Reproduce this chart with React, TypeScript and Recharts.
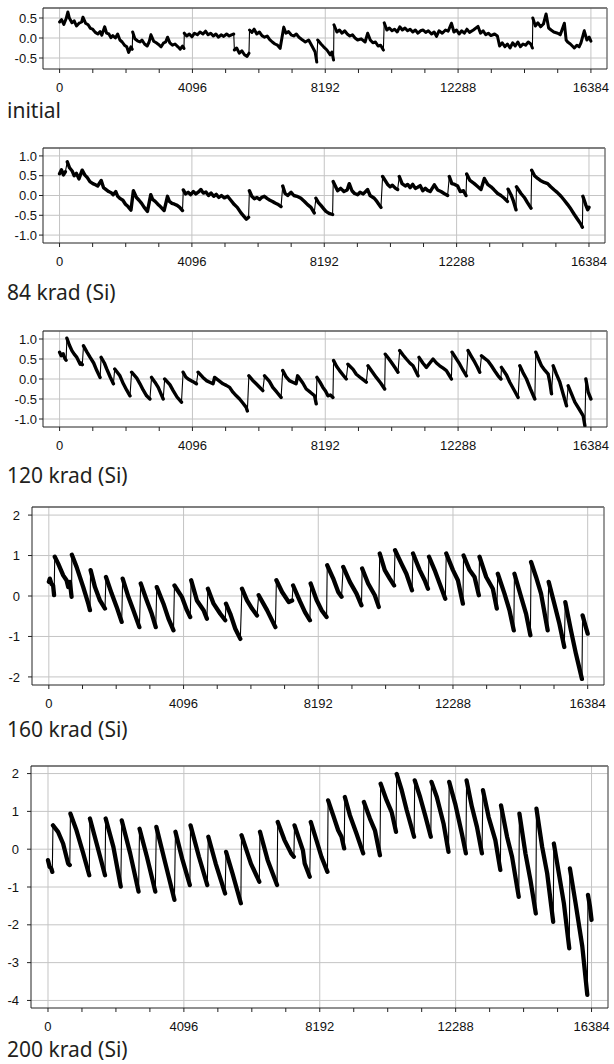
import React from "react";
import { LineChart, Line, XAxis, YAxis, CartesianGrid, ReferenceLine } from "recharts";

type Trace = [number, number][];

// code axis
const xTicks = [0, 1024, 2048, 3072, 4096, 5120, 6144, 7168, 8192, 9216, 10240, 11264, 12288, 13312, 14336, 15360, 16384];
const xLabelled = [0, 4096, 8192, 12288, 16384];
const xDomain: [number, number] = [-512, 16880];

const captions = ["initial", "84 krad (Si)", "120 krad (Si)", "160 krad (Si)", "200 krad (Si)"];

const ticksInitial = [-0.5, 0, 0.5];
const ticksMid = [-1, -0.5, 0, 0.5, 1];
const ticks160 = [-2, -1, 0, 1, 2];
const ticks200 = [-4, -3, -2, -1, 0, 1, 2];

// [code, DNL]
const initialTrace: Trace = [
  [0, 0.4], [60, 0.46], [130, 0.34], [200, 0.48], [256, 0.65], [300, 0.5], [380, 0.38], [450, 0.43], [520, 0.3], [600, 0.37],
  [680, 0.4], [720, 0.52], [800, 0.37], [880, 0.33], [950, 0.24], [1020, 0.22], [1100, 0.14], [1180, 0.1], [1250, 0.16], [1300, 0.07],
  [1390, 0.28], [1450, 0.12], [1520, 0.1], [1580, 0.01], [1640, 0.06], [1720, 0.0], [1790, 0.1], [1860, -0.05], [1930, -0.1], [2000, -0.18],
  [2070, -0.22], [2130, -0.36], [2200, -0.22], [2240, -0.28], [2253, 0.15], [2320, -0.02], [2400, -0.07], [2480, -0.1], [2540, -0.05], [2620, -0.15],
  [2700, -0.2], [2760, -0.1], [2816, 0.08], [2900, -0.08], [2980, -0.12], [3050, -0.16], [3130, -0.22], [3200, -0.13], [3270, -0.1], [3328, 0.02],
  [3400, -0.12], [3480, -0.18], [3560, -0.15], [3650, -0.22], [3720, -0.28], [3790, -0.2], [3835, -0.26], [3845, 0.12], [3920, 0.05], [4000, 0.1],
  [4080, 0.03], [4160, 0.12], [4250, 0.08], [4330, 0.15], [4420, 0.1], [4500, 0.17], [4580, 0.08], [4660, 0.12], [4740, 0.05], [4820, 0.1],
  [4900, 0.02], [4980, 0.08], [5060, 0.04], [5150, 0.1], [5230, 0.05], [5300, 0.08], [5370, 0.1], [5390, -0.3], [5460, -0.25], [5540, -0.38],
  [5620, -0.32], [5700, -0.42], [5780, -0.46], [5840, -0.38], [5857, 0.2], [5930, 0.14], [6000, 0.22], [6080, 0.1], [6160, 0.15], [6240, 0.06],
  [6320, 0.02], [6400, 0.05], [6480, -0.04], [6560, -0.1], [6640, -0.15], [6720, -0.18], [6800, -0.26], [6912, 0.27], [6980, 0.12], [7060, 0.16],
  [7140, 0.08], [7220, 0.05], [7300, 0.1], [7380, 0.02], [7460, -0.03], [7578, -0.1], [7680, -0.05], [7782, -0.2], [7880, -0.35], [7930, -0.6],
  [7960, -0.05], [8060, -0.15], [8141, -0.22], [8243, -0.3], [8346, -0.42], [8397, -0.35], [8448, -0.55], [8460, 0.33], [8550, 0.15], [8630, 0.2],
  [8710, 0.12], [8790, 0.18], [8870, 0.1], [8950, 0.05], [9030, 0.08], [9110, 0.0], [9190, -0.05], [9300, -0.02], [9421, -0.1], [9500, 0.12],
  [9580, -0.05], [9660, -0.12], [9740, -0.1], [9820, -0.2], [9900, -0.18], [9984, -0.3], [10010, 0.38], [10090, 0.2], [10170, 0.25], [10250, 0.18],
  [10330, 0.22], [10410, 0.15], [10490, 0.28], [10570, 0.2], [10650, 0.25], [10730, 0.18], [10810, 0.22], [10890, 0.15], [10970, 0.2], [11050, 0.12],
  [11130, 0.18], [11210, 0.2], [11290, 0.14], [11370, 0.18], [11469, 0.1], [11550, 0.15], [11622, 0.04], [11700, 0.18], [11800, 0.12], [11900, 0.2],
  [11981, 0.17], [12083, 0.37], [12160, 0.15], [12240, 0.2], [12320, 0.1], [12400, 0.18], [12480, 0.12], [12560, 0.22], [12640, 0.14], [12760, 0.2],
  [12903, 0.29], [12980, 0.12], [13060, 0.18], [13140, 0.08], [13220, 0.12], [13300, 0.06], [13414, 0.1], [13500, 0.05], [13568, -0.2], [13650, -0.12],
  [13730, -0.22], [13810, -0.15], [13890, -0.25], [13970, -0.12], [14050, -0.2], [14130, -0.1], [14210, -0.22], [14290, -0.15], [14370, -0.18], [14450, -0.1],
  [14530, -0.15], [14580, -0.25], [14592, 0.5], [14670, 0.3], [14750, 0.38], [14830, 0.28], [14920, 0.35], [15002, 0.6], [15080, 0.25], [15155, 0.2],
  [15240, 0.15], [15360, 0.12], [15440, 0.08], [15565, 0.37], [15620, -0.05], [15667, -0.1], [15750, -0.15], [15872, -0.25], [15950, -0.18], [16020, -0.22],
  [16077, -0.12], [16179, 0.18], [16260, -0.05], [16330, 0.02], [16384, -0.08],
];

const krad84Trace: Trace = [
  [0, 0.55], [60, 0.65], [120, 0.52], [180, 0.6], [240, 0.85], [310, 0.7], [390, 0.62], [450, 0.5], [520, 0.56], [600, 0.42],
  [700, 0.64], [780, 0.52], [860, 0.45], [940, 0.35], [1030, 0.3], [1110, 0.27], [1180, 0.24], [1290, 0.38], [1360, 0.2], [1440, 0.15],
  [1520, 0.1], [1600, 0.07], [1660, 0.02], [1740, 0.1], [1800, -0.02], [1880, -0.08], [1960, -0.12], [2040, -0.22], [2120, -0.28], [2210, -0.37],
  [2285, 0.12], [2380, -0.05], [2460, -0.12], [2540, -0.2], [2620, -0.3], [2720, -0.4], [2823, 0.02], [2880, -0.1], [2960, -0.15], [3040, -0.22],
  [3120, -0.28], [3236, -0.38], [3340, -0.02], [3400, -0.15], [3480, -0.2], [3560, -0.22], [3640, -0.25], [3720, -0.3], [3805, -0.38], [3830, 0.14],
  [3900, 0.04], [3980, 0.08], [4060, 0.02], [4140, 0.1], [4220, 0.04], [4300, 0.09], [4374, 0.15], [4450, 0.06], [4530, 0.09], [4610, 0.0],
  [4690, 0.06], [4770, -0.02], [4850, 0.03], [4930, -0.05], [5010, 0.0], [5100, -0.06], [5200, -0.02], [5300, -0.12], [5408, -0.23], [5500, -0.3],
  [5615, -0.44], [5700, -0.52], [5780, -0.6], [5850, -0.55], [5875, 0.12], [5950, -0.02], [6030, -0.08], [6110, -0.05], [6190, -0.1], [6270, -0.04],
  [6338, -0.02], [6430, -0.08], [6510, -0.12], [6590, -0.15], [6670, -0.19], [6750, -0.22], [6855, -0.28], [6907, 0.24], [6980, 0.05], [7060, 0.0],
  [7166, 0.08], [7250, 0.0], [7350, -0.02], [7470, -0.07], [7580, -0.15], [7676, -0.23], [7780, -0.3], [7882, -0.44], [7934, -0.07], [8010, -0.18],
  [8089, -0.25], [8170, -0.33], [8244, -0.4], [8340, -0.45], [8450, -0.48], [8470, 0.35], [8605, 0.12], [8700, 0.18], [8800, 0.1], [8900, 0.14],
  [8966, 0.3], [9050, 0.12], [9130, 0.05], [9224, 0.02], [9300, 0.08], [9400, 0.04], [9534, 0.15], [9610, 0.0], [9740, -0.07], [9820, -0.15],
  [9946, -0.3], [9998, 0.48], [10153, 0.28], [10230, 0.22], [10300, 0.26], [10400, 0.18], [10462, 0.15], [10514, 0.48], [10600, 0.3], [10700, 0.24],
  [10772, 0.28], [10850, 0.2], [10930, 0.28], [11010, 0.18], [11082, 0.21], [11160, 0.25], [11240, 0.12], [11320, 0.18], [11391, 0.13], [11470, 0.1],
  [11598, 0.27], [11700, 0.14], [11804, 0.1], [11900, 0.05], [12010, 0.0], [12062, 0.48], [12140, 0.3], [12230, 0.28], [12320, 0.24], [12400, 0.1],
  [12500, 0.12], [12578, 0.0], [12600, 0.54], [12700, 0.38], [12836, 0.3], [12920, 0.24], [13042, 0.15], [13146, 0.43], [13250, 0.28], [13352, 0.22],
  [13440, 0.15], [13558, 0.05], [13660, 0.0], [13765, -0.07], [13860, -0.15], [13880, 0.16], [13971, 0.02], [14050, -0.15], [14126, -0.36], [14140, 0.22],
  [14280, 0.05], [14384, -0.05], [14480, -0.18], [14590, -0.32], [14611, 0.64], [14700, 0.5], [14797, 0.43], [14880, 0.38], [15000, 0.33], [15106, 0.3],
  [15200, 0.22], [15312, 0.14], [15400, 0.08], [15519, -0.02], [15620, -0.12], [15725, -0.23], [15830, -0.35], [15931, -0.48], [16030, -0.6], [16138, -0.73],
  [16180, -0.8], [16195, -0.02], [16290, -0.25], [16345, -0.36], [16384, -0.3],
];

const krad120Trace: Trace = [
  [0, 0.67], [50, 0.58], [110, 0.63], [170, 0.5], [200, 0.47], [225, 1.02], [300, 0.85], [379, 0.71], [450, 0.62], [532, 0.54],
  [635, 0.37], [660, 0.4], [700, 0.36], [737, 0.83], [840, 0.68], [942, 0.54], [1050, 0.4], [1147, 0.21], [1249, 0.04], [1280, 0.54], [1380, 0.4],
  [1454, 0.25], [1560, 0.05], [1659, -0.12], [1700, 0.25], [1860, 0.08], [1966, -0.12], [2070, -0.28], [2171, -0.42], [2220, 0.17], [2380, 0.02],
  [2478, -0.12], [2580, -0.28], [2683, -0.42], [2785, -0.5], [2836, 0.04], [2940, -0.08], [3041, -0.21], [3120, -0.36], [3195, -0.5], [3240, 0.0],
  [3400, -0.14], [3502, -0.29], [3620, -0.45], [3758, -0.58], [3809, 0.17], [3890, 0.05], [3963, 0.0], [4100, -0.06], [4219, -0.12], [4270, 0.17],
  [4420, 0.04], [4526, -0.04], [4630, -0.08], [4731, -0.12], [4780, 0.04], [4940, -0.06], [5038, -0.12], [5140, -0.16], [5243, -0.21], [5345, -0.33],
  [5450, -0.42], [5550, -0.5], [5650, -0.6], [5755, -0.71], [5790, -0.8], [5837, 0.08], [5950, -0.03], [6062, -0.12], [6160, -0.2], [6267, -0.29],
  [6320, 0.08], [6470, -0.06], [6574, -0.21], [6700, -0.33], [6830, -0.46], [6881, 0.21], [6980, 0.06], [7086, -0.04], [7190, -0.08], [7291, -0.12],
  [7340, 0.08], [7500, -0.1], [7605, -0.25], [7730, -0.33], [7863, -0.42], [7914, -0.62], [7935, 0.04], [8030, -0.08], [8120, -0.21], [8200, -0.3],
  [8274, -0.42], [8350, -0.4], [8429, -0.46], [8449, 0.46], [8540, 0.32], [8634, 0.21], [8740, 0.1], [8840, 0.0], [8890, 0.37], [9050, 0.24],
  [9149, 0.12], [9300, 0.02], [9458, -0.08], [9509, 0.33], [9640, 0.18], [9766, 0.04], [9900, -0.1], [10024, -0.25], [10044, 0.62], [10140, 0.52],
  [10229, 0.42], [10330, 0.3], [10435, 0.17], [10487, 0.71], [10590, 0.6], [10692, 0.5], [10800, 0.4], [10898, 0.33], [10980, 0.2], [11053, 0.08],
  [11083, 0.54], [11200, 0.4], [11310, 0.29], [11400, 0.38], [11516, 0.5], [11620, 0.4], [11721, 0.33], [11827, 0.27], [11927, 0.21], [12010, 0.1],
  [12082, 0.0], [12102, 0.67], [12220, 0.52], [12339, 0.37], [12440, 0.22], [12545, 0.08], [12596, 0.71], [12700, 0.56], [12802, 0.42], [12880, 0.3],
  [12957, 0.17], [13010, 0.58], [13210, 0.45], [13316, 0.33], [13420, 0.2], [13522, 0.08], [13610, 0.0], [13625, 0.29], [13780, 0.1], [13882, -0.08],
  [14010, -0.27], [14139, -0.46], [14191, 0.33], [14290, 0.16], [14397, 0.0], [14520, -0.25], [14654, -0.5], [14685, 0.67], [14770, 0.5], [14860, 0.33],
  [14960, 0.22], [15066, 0.12], [15120, -0.1], [15169, -0.37], [15220, 0.33], [15320, 0.12], [15426, -0.08], [15530, -0.38], [15632, -0.67], [15683, -0.17],
  [15789, -0.38], [15889, -0.58], [16020, -0.75], [16146, -0.92], [16198, -1.17], [16228, 0.0], [16300, -0.33], [16384, -0.5],
];

const krad160Trace: Trace = [
  [0, 0.35], [30, 0.43], [80, 0.3], [130, 0.26], [160, 0.02], [180, 0.97], [284, 0.8], [437, 0.51], [538, 0.39], [589, 0.22],
  [640, 0.35], [691, -0.02], [700, 1.02], [843, 0.72], [1046, 0.22], [1199, -0.19], [1250, -0.35], [1270, 0.64], [1402, 0.22], [1554, -0.11],
  [1707, -0.31], [1737, 0.47], [1910, 0.06], [2062, -0.27], [2215, -0.64], [2245, 0.43], [2418, -0.02], [2570, -0.35], [2753, -0.77], [2794, 0.31],
  [2977, -0.11], [3129, -0.44], [3251, -0.77], [3282, 0.22], [3485, -0.19], [3637, -0.56], [3790, -0.85], [3820, 0.26], [4044, -0.02], [4196, -0.35],
  [4298, -0.52], [4328, 0.39], [4501, -0.11], [4704, -0.35], [4806, -0.56], [4836, 0.18], [5009, -0.19], [5212, -0.44], [5364, -0.6], [5385, -0.19],
  [5517, -0.44], [5669, -0.81], [5822, -1.06], [5872, 0.18], [6025, -0.11], [6177, -0.31], [6330, -0.48], [6380, 0.02], [6634, -0.35], [6888, -0.77],
  [6919, 0.39], [7092, 0.1], [7295, -0.15], [7397, -0.11], [7427, 0.26], [7640, -0.14], [7788, -0.4], [7939, -0.6], [7960, 0.31], [8141, -0.1],
  [8293, -0.35], [8445, -0.52], [8465, 0.76], [8647, 0.43], [8799, 0.1], [8900, -0.02], [8950, 0.72], [9152, 0.35], [9355, 0.06], [9506, -0.23],
  [9526, 0.68], [9708, 0.31], [9911, 0.02], [10032, -0.27], [10062, 1.05], [10214, 0.64], [10366, 0.43], [10497, 0.26], [10527, 1.13], [10720, 0.8],
  [10871, 0.55], [11043, 0.14], [11073, 1.05], [11276, 0.64], [11427, 0.39], [11528, 0.18], [11559, 0.97], [11730, 0.64], [11882, 0.31], [12054, -0.07],
  [12084, 1.05], [12287, 0.64], [12438, 0.39], [12590, -0.19], [12610, 1.0], [12792, 0.64], [12944, 0.47], [13075, 0.02], [13095, 0.97], [13298, 0.47],
  [13500, 0.18], [13621, -0.31], [13651, 0.55], [13854, 0.06], [14005, -0.35], [14137, -0.85], [14157, 0.55], [14359, -0.02], [14511, -0.44], [14642, -0.97],
  [14662, 0.84], [14814, 0.47], [14966, 0.06], [15168, -0.85], [15198, 0.35], [15370, -0.19], [15522, -0.68], [15673, -1.26], [15703, -0.15], [15875, -0.85],
  [16027, -1.43], [16209, -2.05], [16229, -0.48], [16310, -0.72], [16384, -0.93],
];

const krad200Trace: Trace = [
  [0, -0.29], [50, -0.47], [100, -0.51], [130, -0.6], [150, 0.63], [303, 0.46], [455, 0.15], [607, -0.38], [657, -0.42], [677, 0.94],
  [859, 0.5], [1062, -0.11], [1244, -0.69], [1264, 0.81], [1466, 0.15], [1719, -0.69], [1739, 0.81], [1971, 0.06], [2194, -0.99], [2224, 0.76],
  [2477, -0.11], [2730, -1.12], [2760, 0.54], [2982, -0.2], [3235, -1.12], [3266, 0.59], [3539, -0.38], [3811, -1.34], [3842, 0.46], [4044, -0.25],
  [4277, -0.95], [4297, 0.63], [4550, -0.2], [4802, -0.95], [4833, 0.33], [5055, -0.38], [5338, -1.17], [5368, -0.07], [5561, -0.64], [5813, -1.43],
  [5833, 0.37], [6117, -0.38], [6369, -0.86], [6390, 0.46], [6622, -0.29], [6905, -0.95], [6925, 0.72], [7128, 0.24], [7330, -0.11], [7411, -0.2],
  [7431, 0.63], [7684, -0.03], [7738, -0.38], [7890, -0.73], [7920, 0.72], [8091, 0.24], [8242, -0.2], [8424, -0.6], [8444, 1.29], [8595, 0.9],
  [8746, 0.5], [8847, 0.33], [8928, 0.02], [8948, 1.38], [9099, 0.9], [9301, 0.41], [9502, -0.11], [9522, 1.25], [9704, 0.81], [9855, 0.5],
  [10006, -0.16], [10027, 1.73], [10208, 1.29], [10359, 0.98], [10490, 0.46], [10510, 1.99], [10662, 1.56], [10813, 1.03], [11035, 0.33], [11055, 1.82],
  [11216, 1.38], [11367, 0.9], [11539, 0.33], [11559, 1.78], [11720, 1.38], [11922, 0.68], [12073, -0.07], [12093, 1.78], [12275, 1.2], [12476, 0.41],
  [12597, -0.11], [12617, 1.82], [12778, 1.12], [12930, 0.59], [13081, -0.11], [13111, 1.56], [13282, 0.85], [13484, 0.24], [13635, -0.55], [13655, 1.16],
  [13837, 0.33], [13988, -0.2], [14190, -1.26], [14210, 0.94], [14391, -0.11], [14542, -0.82], [14704, -1.7], [14724, 1.07], [14895, 0.06], [15047, -0.64],
  [15228, -1.92], [15248, 0.15], [15399, -0.64], [15550, -1.43], [15712, -2.62], [15732, -0.51], [15903, -1.43], [16105, -2.57], [16256, -3.85], [16276, -1.21],
  [16337, -1.52], [16384, -1.87],
];

const panels = [
  { trace: initialTrace, yTicks: ticksInitial, yDomain: [-0.775, 0.75] as [number, number], decimals: 1, left: 43, right: 607, top: 8, bottom: 69, labelGap: 2, bandWidth: 3, captionY: 118 },
  { trace: krad84Trace, yTicks: ticksMid, yDomain: [-1.2, 1.2] as [number, number], decimals: 1, left: 43, right: 605, top: 148, bottom: 243, labelGap: 2, bandWidth: 3.4, captionY: 300 },
  { trace: krad120Trace, yTicks: ticksMid, yDomain: [-1.2, 1.2] as [number, number], decimals: 1, left: 43, right: 607, top: 331, bottom: 427, labelGap: 2, bandWidth: 3.4, captionY: 483 },
  { trace: krad160Trace, yTicks: ticks160, yDomain: [-2.2, 2.2] as [number, number], decimals: 0, left: 32, right: 604, top: 507, bottom: 685, labelGap: 8, bandWidth: 4.3, captionY: 737 },
  { trace: krad200Trace, yTicks: ticks200, yDomain: [-4.2, 2.2] as [number, number], decimals: 0, left: 31, right: 608, top: 766, bottom: 1008, labelGap: 8, bandWidth: 4.3, captionY: 1057 },
];

const tickStyle = { fontSize: 13, fill: "#111", fontFamily: "'Liberation Sans', Arial, sans-serif" };

// the noisy band is drawn thick; the code jumps between ramps stay a thin line
function buildRows(trace: Trace) {
  const rows: { code: number; v: number | null; band: number | null }[] = [];
  trace.forEach(([code, v], i) => {
    if (i > 0) {
      const [pc, pv] = trace[i - 1];
      const dc = code - pc;
      const dv = v - pv;
      if ((dv > 0.2 && dc <= 60) || (dv < -0.3 && dc <= 30)) rows.push({ code: (code + pc) / 2, v: null, band: null });
    }
    rows.push({ code, v, band: v });
  });
  return rows;
}

const Panel = ({ trace, yTicks, yDomain, decimals, left, right, top, bottom, labelGap, bandWidth }: typeof panels[number]) => {
  const rows = buildRows(trace);
  const pad = 6;
  return (
    <div style={{ position: "absolute", left: 0, top: top - pad }}>
      <LineChart
        width={614}
        height={bottom - top + pad + 40}
        data={rows}
        margin={{ top: pad, right: 614 - right, bottom: 0, left: 0 }}
      >
        <CartesianGrid stroke="#c4c4c4" verticalValues={xLabelled} horizontalValues={yTicks} />
        <XAxis
          type="number"
          dataKey="code"
          domain={xDomain}
          ticks={xTicks}
          interval={0}
          allowDataOverflow
          height={40}
          tickSize={4}
          tickMargin={10}
          stroke="#222"
          tick={tickStyle}
          tickFormatter={(v: number) => (xLabelled.includes(v) ? String(v) : "")}
        />
        <YAxis
          type="number"
          domain={yDomain}
          ticks={yTicks}
          interval={0}
          allowDataOverflow
          width={left}
          tickSize={4}
          tickMargin={labelGap}
          stroke="#222"
          tick={tickStyle}
          tickFormatter={(v: number) => v.toFixed(decimals)}
        />
        <ReferenceLine y={yDomain[1]} stroke="#555" strokeWidth={1.5} />
        <ReferenceLine x={xDomain[1]} stroke="#777" strokeWidth={1.5} />
        <Line
          type="linear"
          dataKey="v"
          stroke="#000"
          strokeWidth={1.1}
          connectNulls
          dot={false}
          isAnimationActive={false}
        />
        <Line
          type="linear"
          dataKey="band"
          stroke="#000"
          strokeWidth={bandWidth}
          strokeLinejoin="round"
          strokeLinecap="round"
          dot={false}
          isAnimationActive={false}
        />
      </LineChart>
    </div>
  );
};

export default function App() {
  return (
    <div style={{ position: "absolute", left: 0, top: 0, width: 614, height: 1064, overflow: "hidden", background: "#fff" }}>
      {panels.map((p, i) => (
        <Panel key={i} {...p} />
      ))}
      <svg width={614} height={1064} style={{ position: "absolute", left: 0, top: 0, pointerEvents: "none" }}>
        {panels.map((p, i) => (
          <text key={i} x={7} y={p.captionY} fontFamily="'Noto Sans', 'Open Sans', sans-serif" fontSize={21} fill="#231f20">
            {captions[i]}
          </text>
        ))}
      </svg>
    </div>
  );
}
